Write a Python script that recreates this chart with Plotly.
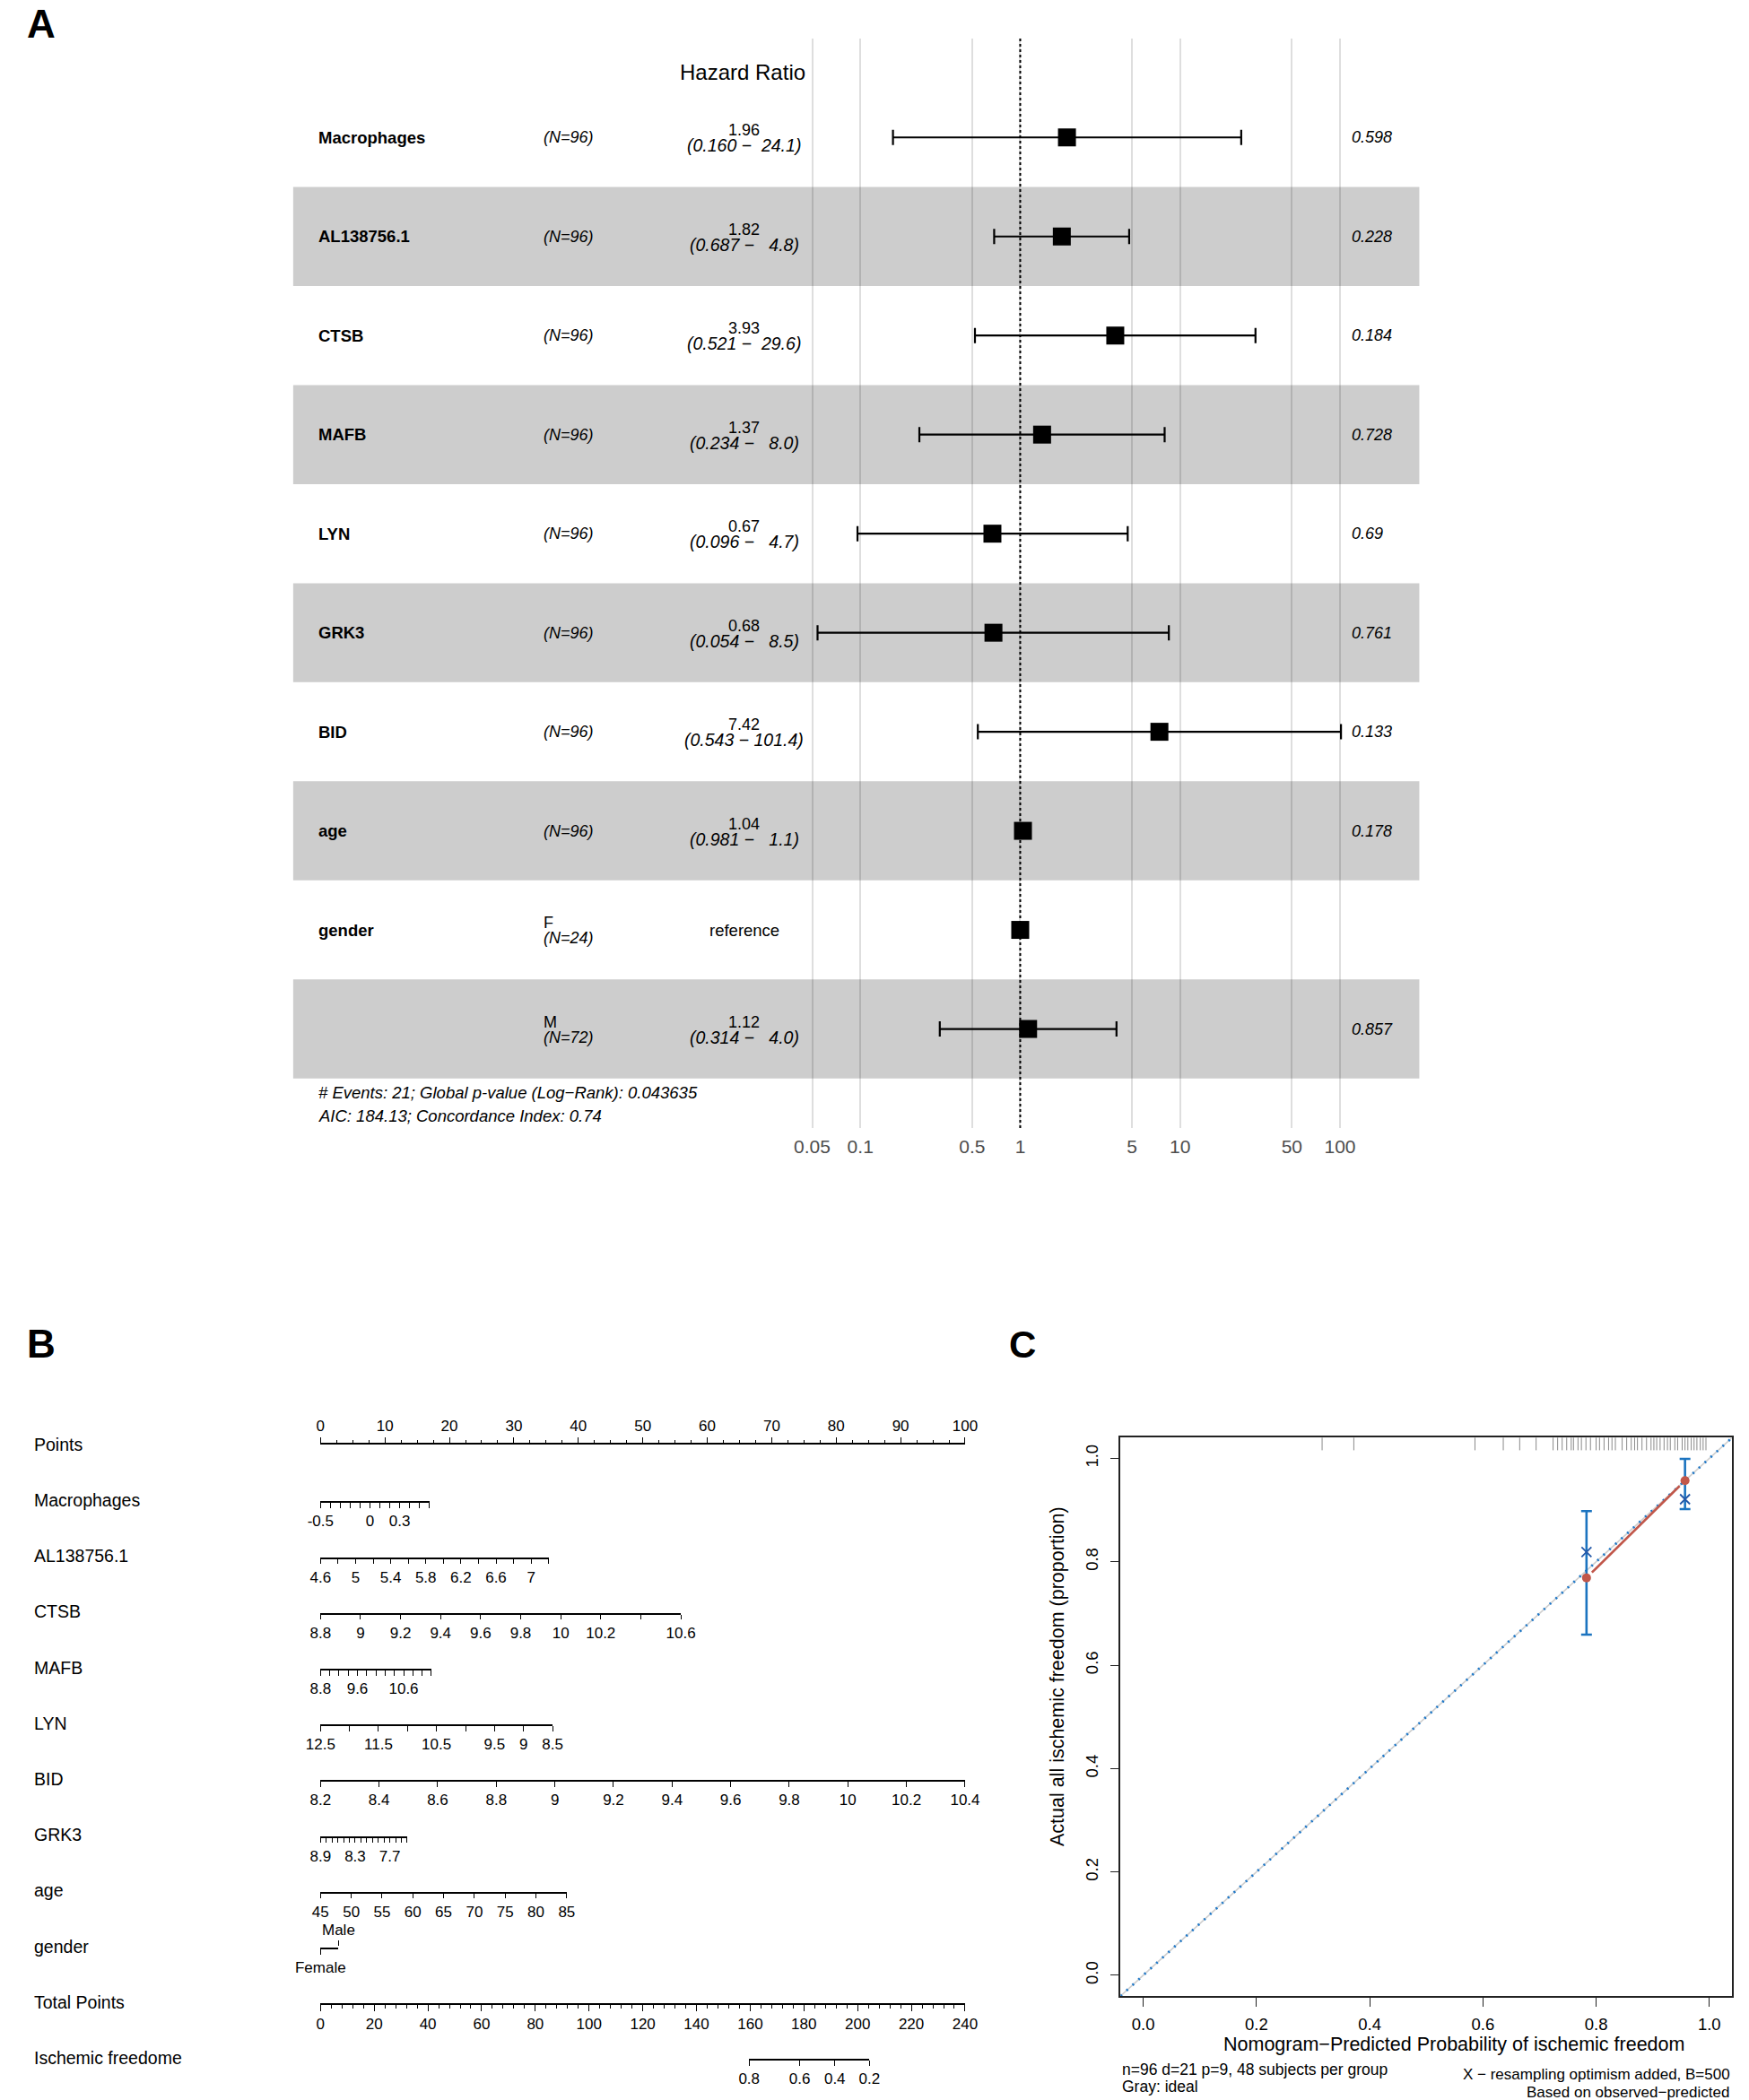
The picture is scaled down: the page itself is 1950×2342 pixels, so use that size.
import plotly.graph_objects as go

W, H = 1950, 2342
FONT = "Liberation Sans, Arial, Helvetica, sans-serif"

# ===================== DATA =====================
# ---- Panel A: multivariable Cox model forest plot ----
forest_vars = ["Macrophages", "AL138756.1", "CTSB", "MAFB", "LYN", "GRK3", "BID", "age", "gender", ""]
forest_levels = ["", "", "", "", "", "", "", "", "F", "M"]
forest_n = [96, 96, 96, 96, 96, 96, 96, 96, 24, 72]
forest_hr = [1.96, 1.82, 3.93, 1.37, 0.67, 0.68, 7.42, 1.04, 1.0, 1.12]
forest_lo = [0.160, 0.687, 0.521, 0.234, 0.096, 0.054, 0.543, 0.981, None, 0.314]
forest_hi = [24.1, 4.8, 29.6, 8.0, 4.7, 8.5, 101.4, 1.1, None, 4.0]
forest_p = [0.598, 0.228, 0.184, 0.728, 0.69, 0.761, 0.133, 0.178, None, 0.857]
forest_ticks = [0.05, 0.1, 0.5, 1, 5, 10, 50, 100]
forest_ref = 1
forest_title = "Hazard Ratio"
forest_footer = ["# Events: 21; Global p-value (Log\u2212Rank): 0.043635",
                 "AIC: 184.13; Concordance Index: 0.74"]

# ---- Panel B: nomogram scales ----
points_ticks_major = [0, 10, 20, 30, 40, 50, 60, 70, 80, 90, 100]
nomo_names = ["Macrophages", "AL138756.1", "CTSB", "MAFB", "LYN", "BID", "GRK3", "age"]
macrophages_ticks = [-0.5, -0.4, -0.3, -0.2, -0.1, 0.0, 0.1, 0.2, 0.3, 0.4, 0.5, 0.6]
macrophages_labels = [-0.5, 0.0, 0.3]
al138756_ticks = [4.6, 4.8, 5.0, 5.2, 5.4, 5.6, 5.8, 6.0, 6.2, 6.4, 6.6, 6.8, 7.0, 7.2]
al138756_labels = [4.6, 5.0, 5.4, 5.8, 6.2, 6.6, 7.0]
ctsb_ticks = [8.8, 9.0, 9.2, 9.4, 9.6, 9.8, 10.0, 10.2, 10.4, 10.6]
ctsb_labels = [8.8, 9.0, 9.2, 9.4, 9.6, 9.8, 10.0, 10.2, 10.6]
mafb_ticks = [8.8, 9.0, 9.2, 9.4, 9.6, 9.8, 10.0, 10.2, 10.4, 10.6, 10.8, 11.0, 11.2]
mafb_labels = [8.8, 9.6, 10.6]
lyn_ticks = [12.5, 12.0, 11.5, 11.0, 10.5, 10.0, 9.5, 9.0, 8.5]
lyn_labels = [12.5, 11.5, 10.5, 9.5, 9.0, 8.5]
bid_ticks = [8.2, 8.4, 8.6, 8.8, 9.0, 9.2, 9.4, 9.6, 9.8, 10.0, 10.2, 10.4]
bid_labels = [8.2, 8.4, 8.6, 8.8, 9.0, 9.2, 9.4, 9.6, 9.8, 10.0, 10.2, 10.4]
grk3_ticks = [8.9, 8.8, 8.7, 8.6, 8.5, 8.4, 8.3, 8.2, 8.1, 8.0, 7.9, 7.8, 7.7, 7.6, 7.5, 7.4]
grk3_labels = [8.9, 8.3, 7.7]
age_ticks = [45, 50, 55, 60, 65, 70, 75, 80, 85]
age_labels = [45, 50, 55, 60, 65, 70, 75, 80, 85]
nomo_ticks = [macrophages_ticks, al138756_ticks, ctsb_ticks, mafb_ticks, lyn_ticks, bid_ticks, grk3_ticks, age_ticks]
nomo_labels = [macrophages_labels, al138756_labels, ctsb_labels, mafb_labels, lyn_labels, bid_labels, grk3_labels, age_labels]
nomo_max_points = [16.9, 35.4, 55.9, 17.2, 36.0, 100.0, 13.45, 38.2]
gender_levels = ["Female", "Male"]
gender_points = [0.0, 2.8]
total_points_major = [0, 20, 40, 60, 80, 100, 120, 140, 160, 180, 200, 220, 240]
surv_probs = [0.8, 0.6, 0.4, 0.2]
surv_total_points = [159.6, 178.4, 191.5, 204.4]

# ---- Panel C: calibration curve ----
cal_pred = [0.783, 0.957]
cal_obs = [0.769, 0.957]
cal_corrected = [0.819, 0.921]
cal_ci_low = [0.659, 0.902]
cal_ci_high = [0.898, 0.999]
cal_ticks = [0.0, 0.2, 0.4, 0.6, 0.8, 1.0]
cal_range = [-0.04, 1.04]
rug_pred = [0.316, 0.372, 0.586, 0.636, 0.665, 0.694, 0.724, 0.732, 0.740, 0.748, 0.756,
            0.760, 0.768, 0.774, 0.782, 0.790, 0.800, 0.806, 0.814, 0.822, 0.828, 0.834,
            0.846, 0.854, 0.862, 0.868, 0.873, 0.881, 0.889, 0.897, 0.902, 0.907, 0.913,
            0.920, 0.926, 0.931, 0.939, 0.944, 0.952, 0.957, 0.962, 0.968, 0.973, 0.978,
            0.984, 0.989, 0.994]
cal_note_left = ["n=96 d=21 p=9, 48 subjects per group", "Gray: ideal"]
cal_note_right = ["X \u2212 resampling optimism added, B=500", "Based on observed\u2212predicted"]
cal_xtitle = "Nomogram\u2212Predicted Probability of ischemic freedom"
cal_ytitle = "Actual all ischemic freedom (proportion)"

# ===================== FIGURE =====================
fig = go.Figure()
annotations = []
shapes = []
layout = {}

# horizontal placement helper (target picture x in px -> paper fraction)
OX, SX = 28.0, 0.9755


def fx(p):
    return min(max(((p - OX) / SX) / W, 0.0), 0.9995)


def py(y):
    return 1 - y / H


def txt(x, y, text, size, xanchor="left", color="black", yshift=0, xref="paper", yref="paper", angle=0,
        yanchor="middle"):
    annotations.append(dict(x=x, y=y, xref=xref, yref=yref, text=text, showarrow=False,
                            xanchor=xanchor, yanchor=yanchor, yshift=yshift, textangle=angle,
                            font=dict(family=FONT, size=size, color=color)))


# Panel letters
txt(0, 1, "<b>A</b>", 44, yanchor="top")
txt(0, py(1498), "<b>B</b>", 44)
txt(fx(1122), py(1499), "<b>C</b>", 42)

# ---------------- Panel A ----------------
A_left, A_right, A_top, A_bottom = 326.6, 1581.0, 42.8, 1258.0
rows = list(range(1, len(forest_hr) + 1))
layout["xaxis"] = dict(domain=[fx(A_left), fx(A_right)], type="log", range=[-4.547, 2.496],
                       tickmode="array", tickvals=forest_ticks, ticktext=[f"{t:g}" for t in forest_ticks],
                       showgrid=True, gridcolor="rgba(0,0,0,0.13)", gridwidth=1.5, zeroline=False,
                       showline=False, ticks="", ticklabelstandoff=6, anchor="y", fixedrange=True,
                       tickfont=dict(family=FONT, size=21, color="#4d4d4d"))
layout["yaxis"] = dict(domain=[py(A_bottom), py(A_top)], range=[len(rows) + 1, 0], visible=False,
                       anchor="x", fixedrange=True)

for r in rows:
    if r % 2 == 0:
        shapes.append(dict(type="rect", xref="x domain", yref="y", x0=0, x1=1, y0=r - 0.5, y1=r + 0.5,
                           fillcolor="#cdcdcd", line=dict(width=0), layer="below"))
shapes.append(dict(type="line", xref="x", yref="y domain", x0=forest_ref, x1=forest_ref, y0=0, y1=1,
                   line=dict(color="black", width=2, dash="dot"), layer="below"))

ci_x = [h for h, lo in zip(forest_hr, forest_lo) if lo is not None]
ci_y = [r for r, lo in zip(rows, forest_lo) if lo is not None]
ci_plus = [hi - h for h, hi, lo in zip(forest_hr, forest_hi, forest_lo) if lo is not None]
ci_minus = [h - lo for h, lo in zip(forest_hr, forest_lo) if lo is not None]
fig.add_trace(go.Scatter(x=ci_x, y=ci_y, mode="markers", marker=dict(size=2, color="rgba(0,0,0,0)"),
                         error_x=dict(type="data", symmetric=False, array=ci_plus, arrayminus=ci_minus,
                                      color="black", thickness=2.2, width=8.5),
                         hoverinfo="skip", showlegend=False, xaxis="x", yaxis="y"))
fig.add_trace(go.Scatter(x=forest_hr, y=rows, mode="markers",
                         marker=dict(symbol="square", size=20, color="black", line=dict(width=0)),
                         hoverinfo="skip", showlegend=False, xaxis="x", yaxis="y"))

NB = "\u00a0"
X_NAME, X_N, X_HR, X_P = fx(353), fx(603), fx(829), fx(1504)
for r, name, lev, n, h, lo, hi, p in zip(rows, forest_vars, forest_levels, forest_n, forest_hr,
                                         forest_lo, forest_hi, forest_p):
    if name:
        txt(X_NAME, r, f"<b>{name}</b>", 18.5, yref="y")
    if lev:
        txt(X_N, r, lev, 18, yref="y", yshift=8)
        txt(X_N, r, f"<i>(N={n})</i>", 18, yref="y", yshift=-9)
    else:
        txt(X_N, r, f"<i>(N={n})</i>", 18, yref="y")
    if lo is None:
        txt(X_HR, r, "reference", 18.5, xanchor="center", yref="y")
    else:
        hi_s = f"{hi:.1f}".rjust(5).replace(" ", NB)
        txt(X_HR, r, f"{h:.2f}", 18, xanchor="center", yref="y", yshift=8)
        txt(X_HR, r, f"<i>({lo:.3f}{NB}\u2212{NB}{hi_s})</i>", 19.5, xanchor="center", yref="y", yshift=-9)
    if p is not None:
        txt(X_P, r, f"<i>{p:g}</i>", 18, yref="y")

txt(fx(827), py(80), forest_title, 24, xanchor="center")
txt(X_NAME, py(1218), f"<i>{forest_footer[0]}</i>", 18.5)
txt(X_NAME, py(1244), f"<i>{forest_footer[1]}</i>", 18.5)

# ---------------- Panel B ----------------
PX0, PX100 = 357.0, 1075.0
ppp = (PX100 - PX0) / 100.0
ROW_Y0, ROW_DY = 1611.7, 62.2
row_names = ["Points"] + nomo_names + ["gender", "Total Points", "Ischemic freedome"]
for i, nm in enumerate(row_names):
    txt(fx(35.8), py(ROW_Y0 + ROW_DY * i - 1), nm, 19.5)

axis_counter = [2]


def new_id():
    n = axis_counter[0]
    axis_counter[0] += 1
    return n


def base_x(**kw):
    d = dict(showgrid=False, zeroline=False, showline=True, linecolor="black", linewidth=1.6,
             ticks="outside", tickcolor="black", tickwidth=1.4, ticklabelstandoff=0, fixedrange=True,
             tickfont=dict(family=FONT, size=17, color="black"))
    d.update(kw)
    return d


def row_y(n, Y):
    layout[f"yaxis{n}"] = dict(domain=[py(Y + 0.5), py(Y - 0.5)], range=[0, 1], visible=False,
                               fixedrange=True, anchor=f"x{n}")


def dummy(n_x, n_y, xs):
    fig.add_trace(go.Scatter(x=xs, y=[0.5] * len(xs), mode="markers", marker=dict(color="rgba(0,0,0,0)"),
                             hoverinfo="skip", showlegend=False, xaxis=f"x{n_x}", yaxis=f"y{n_y}"))


# Points scale (labels above, ticks upward)
n = new_id()
row_y(n, ROW_Y0)
layout[f"xaxis{n}"] = base_x(domain=[fx(PX0), fx(PX100)], range=[points_ticks_major[0], points_ticks_major[-1]],
                             side="top", anchor=f"y{n}", tickmode="array", tickvals=points_ticks_major,
                             ticktext=[str(t) for t in points_ticks_major], ticklen=6.7,
                             minor=dict(dtick=2.5, tick0=0, ticks="outside", ticklen=3.4,
                                        tickcolor="black", tickwidth=1.4))
dummy(n, n, points_ticks_major)

# Predictor scales
for i, (ticks, labels, mp) in enumerate(zip(nomo_ticks, nomo_labels, nomo_max_points)):
    n = new_id()
    Y = ROW_Y0 + ROW_DY * (i + 1)
    row_y(n, Y)
    lab_set = {round(v, 6) for v in labels}
    ttext = [f"{t:g}" if round(t, 6) in lab_set else "" for t in ticks]
    layout[f"xaxis{n}"] = base_x(domain=[fx(PX0), fx(PX0 + mp * ppp)], range=[ticks[0], ticks[-1]],
                                 side="bottom", anchor=f"y{n}", tickmode="array", tickvals=ticks,
                                 ticktext=ttext, ticklen=5.7)
    dummy(n, n, ticks)

# gender (Female below, Male above)
n = new_id()
Yg = ROW_Y0 + ROW_DY * 9
row_y(n, Yg)
gdom = [fx(PX0), fx(PX0 + gender_points[-1] * ppp)]
layout[f"xaxis{n}"] = base_x(domain=gdom, range=[gender_points[0], gender_points[-1]], side="bottom",
                             anchor=f"y{n}", tickmode="array", tickvals=[gender_points[0]],
                             ticktext=[gender_levels[0]], ticklen=5.7)
dummy(n, n, gender_points)
m = new_id()
layout[f"xaxis{m}"] = base_x(domain=gdom, range=[gender_points[0], gender_points[-1]], side="top",
                             anchor=f"y{n}", overlaying=f"x{n}", showline=False, tickmode="array",
                             tickvals=[gender_points[1]], ticktext=[gender_levels[1]], ticklen=5.7)
dummy(m, n, gender_points)

# Total points
n = new_id()
row_y(n, ROW_Y0 + ROW_DY * 10)
layout[f"xaxis{n}"] = base_x(domain=[fx(PX0), fx(PX100)], range=[total_points_major[0], total_points_major[-1]],
                             side="bottom", anchor=f"y{n}", tickmode="array", tickvals=total_points_major,
                             ticktext=[str(t) for t in total_points_major], ticklen=6.7,
                             minor=dict(dtick=4, tick0=0, ticks="outside", ticklen=4.3,
                                        tickcolor="black", tickwidth=1.4))
dummy(n, n, total_points_major)

# Ischemic freedom probability scale
n = new_id()
row_y(n, ROW_Y0 + ROW_DY * 11)
tp_px = (PX100 - PX0) / total_points_major[-1]
layout[f"xaxis{n}"] = base_x(domain=[fx(PX0 + surv_total_points[0] * tp_px), fx(PX0 + surv_total_points[-1] * tp_px)],
                             range=[surv_total_points[0], surv_total_points[-1]], side="bottom",
                             anchor=f"y{n}", tickmode="array", tickvals=surv_total_points,
                             ticktext=[f"{p:g}" for p in surv_probs], ticklen=5.7)
dummy(n, n, surv_total_points)

# ---------------- Panel C ----------------
c = new_id()
C_L, C_R, C_T, C_B = 1248.2, 1930.6, 1603.4, 2226.0
common_c = dict(range=cal_range, tickmode="array", tickvals=cal_ticks, ticktext=[f"{t:.1f}" for t in cal_ticks],
                ticks="outside", ticklen=10, tickwidth=1.4, tickcolor="#222", showline=True, mirror=True,
                linecolor="#222", linewidth=1.6, showgrid=False, zeroline=False, fixedrange=True,
                tickfont=dict(family=FONT, size=18.5, color="black"))
layout[f"xaxis{c}"] = dict(domain=[fx(C_L), fx(C_R)], anchor=f"y{c}", ticklabelstandoff=4, **common_c)
layout[f"yaxis{c}"] = dict(domain=[py(C_B), py(C_T)], anchor=f"x{c}", tickangle=-90, ticklabelstandoff=6, **common_c)

# ideal line: gray solid + blue dotted
fig.add_trace(go.Scatter(x=cal_range, y=cal_range, mode="lines", line=dict(color="#cfcfcf", width=1.6),
                         hoverinfo="skip", showlegend=False, xaxis=f"x{c}", yaxis=f"y{c}"))
fig.add_trace(go.Scatter(x=cal_range, y=cal_range, mode="lines",
                         line=dict(color="#1f78c8", width=2.8, dash="2px,7px"),
                         hoverinfo="skip", showlegend=False, xaxis=f"x{c}", yaxis=f"y{c}"))
# rug of predicted probabilities
for v in rug_pred:
    shapes.append(dict(type="line", xref=f"x{c}", yref=f"y{c} domain", x0=v, x1=v, y0=1, y1=1 - 0.0225,
                       line=dict(color="#8a8a8a", width=1)))
# 95% CI error bars
fig.add_trace(go.Scatter(x=cal_pred, y=cal_obs, mode="markers", marker=dict(color="rgba(0,0,0,0)", size=2),
                         error_y=dict(type="data", symmetric=False,
                                      array=[h - o for h, o in zip(cal_ci_high, cal_obs)],
                                      arrayminus=[o - l for o, l in zip(cal_obs, cal_ci_low)],
                                      color="#1c74c0", thickness=2.6, width=6),
                         hoverinfo="skip", showlegend=False, xaxis=f"x{c}", yaxis=f"y{c}"))
# observed curve with small gaps near the points
gap = 0.055
lx = [cal_pred[0] + gap * (cal_pred[1] - cal_pred[0]), cal_pred[1] - gap * (cal_pred[1] - cal_pred[0])]
ly = [cal_obs[0] + gap * (cal_obs[1] - cal_obs[0]), cal_obs[1] - gap * (cal_obs[1] - cal_obs[0])]
fig.add_trace(go.Scatter(x=lx, y=ly, mode="lines", line=dict(color="#c1574a", width=2.6),
                         hoverinfo="skip", showlegend=False, xaxis=f"x{c}", yaxis=f"y{c}"))
fig.add_trace(go.Scatter(x=cal_pred, y=cal_obs, mode="markers", marker=dict(color="#c1574a", size=10),
                         hoverinfo="skip", showlegend=False, xaxis=f"x{c}", yaxis=f"y{c}"))
fig.add_trace(go.Scatter(x=cal_pred, y=cal_corrected, mode="markers",
                         marker=dict(symbol="x-thin-open", size=11, color="#2458a8", line=dict(width=1.8, color="#2458a8")),
                         hoverinfo="skip", showlegend=False, xaxis=f"x{c}", yaxis=f"y{c}"))

txt(fx(1620), py(2279.5), cal_xtitle, 21.5, xanchor="center")
txt(fx(1178), py(1870), cal_ytitle, 21.5, xanchor="center", angle=-90)
txt(fx(C_L), py(2307.6), cal_note_left[0], 17.5)
txt(fx(C_L), py(2327), cal_note_left[1], 17.5)
txt(fx(1946), py(2313), cal_note_right[0], 17, xanchor="right")
txt(fx(1928), py(2333), cal_note_right[1], 17, xanchor="right")

layout.update(dict(width=W, height=H, autosize=False, margin=dict(l=0, r=0, t=0, b=0),
                   paper_bgcolor="white", plot_bgcolor="rgba(0,0,0,0)", showlegend=False,
                   font=dict(family=FONT, color="black"), annotations=annotations, shapes=shapes))
fig.update_layout(**layout)
fig.write_html("out.html", config={"responsive": False, "displayModeBar": False},
               post_script="document.body.style.margin='0';document.body.style.padding='0';"
                           "document.documentElement.style.overflow='hidden';")
